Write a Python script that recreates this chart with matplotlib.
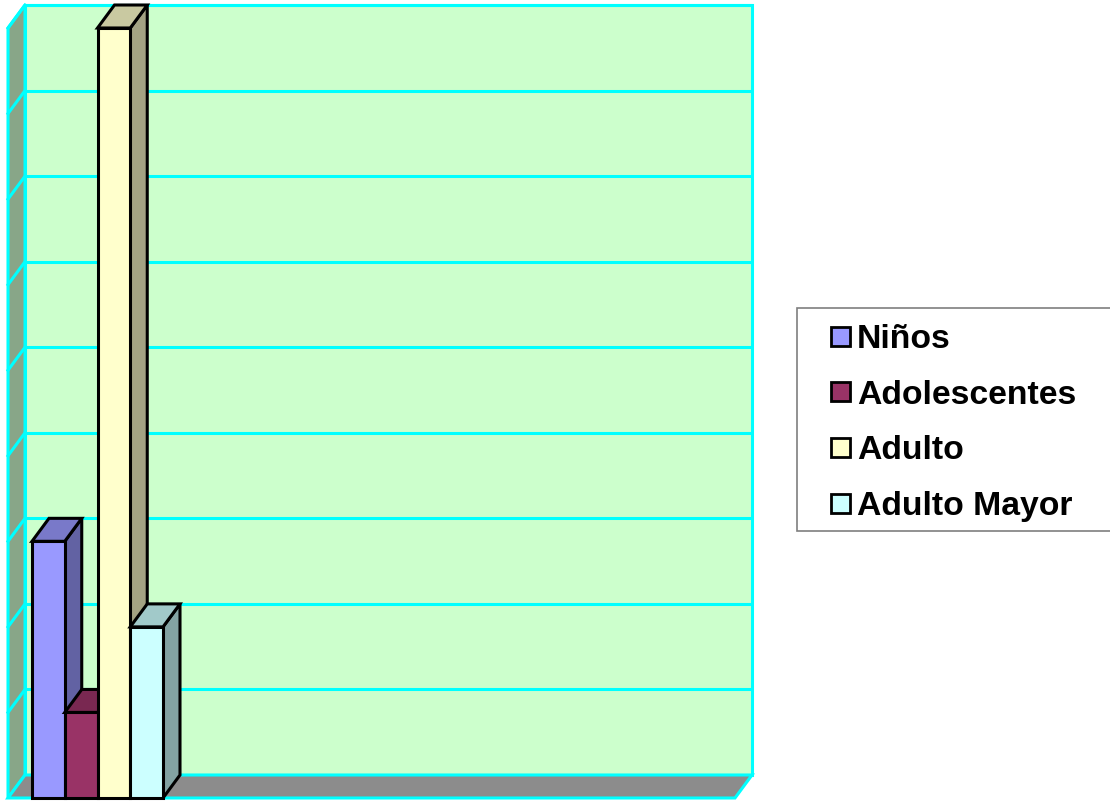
import matplotlib
matplotlib.use("Agg")
import matplotlib.pyplot as plt
from matplotlib.patches import Polygon, Rectangle
import numpy as np

# ---- data ----
categories = ["Niños", "Adolescentes", "Adulto", "Adulto Mayor"]
values = [3, 1, 9, 2]
front_colors = ["#9999FF", "#993366", "#FFFFCC", "#CCFFFF"]
y_max = 9

# ---- layout ----
W, H = 1110, 801
fig = plt.figure(figsize=(W / 100, H / 100), dpi=100)
fig.patch.set_facecolor("white")

px_left, px_right = 8, 735      # front plane, pixels
px_bottom, px_top = 798, 28
bar_px = 32.75
bar_start_px = 32
ax = fig.add_axes([px_left / W, (H - px_bottom) / H,
                   (px_right - px_left) / W, (px_bottom - px_top) / H])
xl = (px_left - bar_start_px) / bar_px
xr = xl + (px_right - px_left) / bar_px
ax.set_xlim(xl, xr)
ax.set_ylim(0, y_max)
ax.axis("off")

unit_px = (px_bottom - px_top) / y_max
dx = 17 / bar_px
dy = 23 / unit_px

cyan = "#00FFFF"

def shade(c, f):
    r, g, b = matplotlib.colors.to_rgb(c)
    return (r * f, g * f, b * f)

# back wall
ax.add_patch(Polygon([(xl + dx, dy), (xr + dx, dy), (xr + dx, y_max + dy), (xl + dx, y_max + dy)],
                     closed=True, facecolor="#CCFFCC", edgecolor=cyan, lw=2.2, clip_on=False, zorder=1))
# side wall
ax.add_patch(Polygon([(xl, 0), (xl, y_max), (xl + dx, y_max + dy), (xl + dx, dy)],
                     closed=True, facecolor="#88A688", edgecolor=cyan, lw=2.2, clip_on=False, zorder=2))
# floor
ax.add_patch(Polygon([(xl, 0), (xr, 0), (xr + dx, dy), (xl + dx, dy)],
                     closed=True, facecolor="#8C8C8C", edgecolor=cyan, lw=2.2, clip_on=False, zorder=2))
# gridlines
for v in range(1, y_max + 1):
    ax.plot([xl + dx, xr + dx], [v + dy, v + dy], color=cyan, lw=2.2, clip_on=False, zorder=3,
            solid_capstyle="butt")
    ax.plot([xl, xl + dx], [v, v + dy], color=cyan, lw=2.2, clip_on=False, zorder=3)

# bars
for i, (v, c) in enumerate(zip(values, front_colors)):
    x0 = i
    z = 10 + i * 3
    side = [(x0 + 1, 0), (x0 + 1, v), (x0 + 1 + dx, v + dy), (x0 + 1 + dx, dy)]
    top = [(x0, v), (x0 + 1, v), (x0 + 1 + dx, v + dy), (x0 + dx, v + dy)]
    ax.add_patch(Polygon(side, closed=True, facecolor=shade(c, 0.64), edgecolor="black",
                         lw=2.2, joinstyle="miter", clip_on=False, zorder=z))
    ax.add_patch(Polygon(top, closed=True, facecolor=shade(c, 0.79), edgecolor="black",
                         lw=2.2, joinstyle="miter", clip_on=False, zorder=z + 1))
    ax.add_patch(Rectangle((x0, 0), 1, v, facecolor=c, edgecolor="black",
                           lw=2.2, joinstyle="miter", clip_on=False, zorder=z + 2))

# legend (pixel coordinates overlay)
lax = fig.add_axes([0, 0, 1, 1])
lax.set_xlim(0, W)
lax.set_ylim(H, 0)
lax.axis("off")
lax.patch.set_alpha(0)
lax.add_patch(Rectangle((796.5, 308), 330, 223, facecolor="white", edgecolor="#7F7F7F",
                        lw=1.2, clip_on=False))
row0, step = 336, 55.7
for i, (lab, c) in enumerate(zip(categories, front_colors)):
    yc = row0 + i * step
    lax.add_patch(Rectangle((831, yc - 9.5), 19, 19, facecolor=c, edgecolor="black", lw=2.0))
    lax.text(857, yc + 12, lab, fontsize=24.3, fontweight="bold", family="Liberation Sans",
             va="baseline", ha="left", color="black")

fig.savefig("out.png", dpi=100, facecolor="white")
